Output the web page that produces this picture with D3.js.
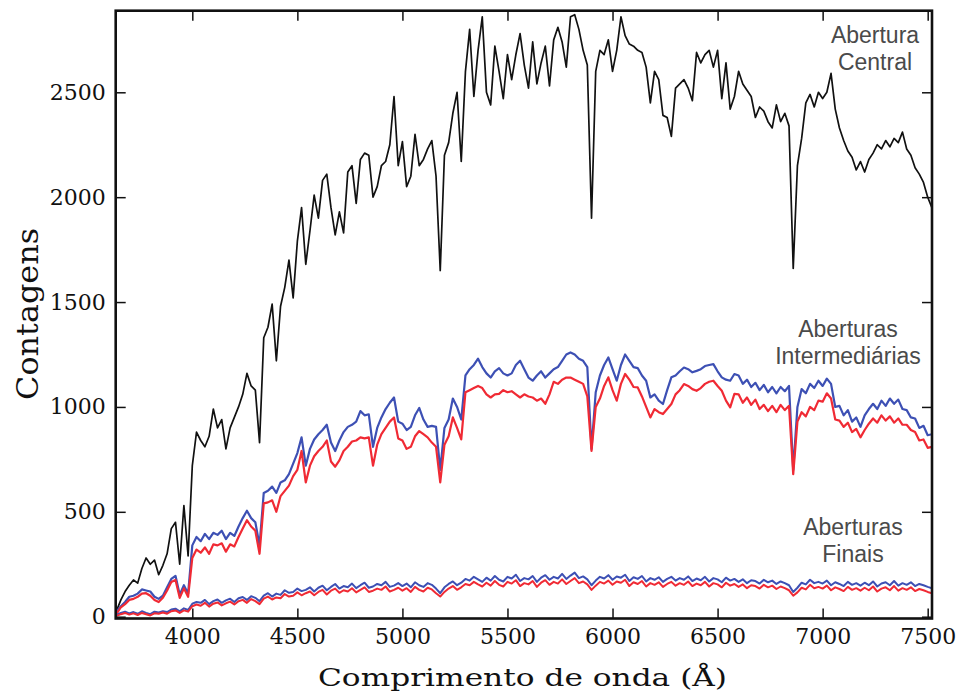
<!DOCTYPE html>
<html>
<head>
<meta charset="utf-8">
<script src="https://cdn.jsdelivr.net/npm/d3@7"></script>
<style>
  body { margin: 0; background: #fff; }
</style>
</head>
<body>
<div id="chart"></div>
<script>
// grade de comprimento de onda (Å), passo de 20 Å
const wavelengths = d3.range(3640, 7521, 20);
const xTicks = [4000, 4500, 5000, 5500, 6000, 6500, 7000, 7500];
const yTicks = [0, 500, 1000, 1500, 2000, 2500];

// Abertura central (preto)
const central = [
  30, 80, 120, 150, 175, 160, 230, 280, 250, 270, 200, 245, 300, 420, 450, 250, 530, 290,
  720, 880, 840, 810, 860, 990, 900, 940, 800, 900,
  950, 1000, 1060, 1160, 1100, 1080, 830, 1330, 1380, 1490,
  1220, 1480, 1570, 1700, 1520, 1790, 1950, 1680, 1840, 2010,
  1900, 2080, 2110, 1950, 1820, 1930, 1830, 2120, 2150, 1970,
  2180, 2210, 2200, 2000, 2050, 2150, 2170, 2250, 2480, 2150,
  2265, 2050, 2100, 2300, 2150, 2180, 2230, 2270, 2100, 1650,
  2200, 2260, 2400, 2500, 2170, 2600, 2800, 2480, 2700, 2860,
  2500, 2440, 2720, 2600, 2470, 2680, 2560, 2680, 2780, 2630,
  2520, 2740, 2540, 2640, 2720, 2530, 2750, 2810, 2740, 2620,
  2860, 2870, 2800, 2700, 2630, 1900, 2600, 2700, 2680, 2750,
  2600, 2700, 2860, 2770, 2730, 2720, 2700, 2690, 2620, 2450,
  2600, 2560, 2390, 2380, 2290, 2520, 2540, 2560, 2520, 2460,
  2690, 2640, 2680, 2700, 2620, 2700, 2470, 2640, 2420, 2480,
  2600, 2540, 2510, 2480, 2380, 2430, 2410, 2360, 2330, 2440,
  2360, 2400, 2340, 1660, 2150, 2280, 2450, 2490, 2430, 2500,
  2470, 2500, 2590, 2420, 2330, 2270, 2220, 2190, 2130, 2170,
  2120, 2180, 2210, 2250, 2230, 2270, 2240, 2280, 2260, 2310,
  2230, 2200, 2140, 2110, 2070, 2000, 1950
];

// Aberturas intermediárias
const intermBlue = [
  25, 50, 70, 95, 100, 110, 130, 125, 120, 95, 85, 100, 140, 180, 195, 105, 150, 110,
  340, 380, 360, 395, 370, 400, 390, 410, 370, 400,
  385, 430, 470, 505, 470, 450, 340, 590, 600, 620,
  590, 640, 650, 680, 730, 780, 855, 720, 800, 845,
  870, 890, 915, 830, 790, 840, 880, 905, 915, 930,
  980, 960, 965, 810, 900, 950, 990, 1020, 1045, 930,
  920, 890, 905, 960, 995, 940, 905, 910, 905, 700,
  900, 940, 1040, 1000, 940, 1150, 1180, 1200, 1230, 1190,
  1160, 1140, 1170, 1185, 1160, 1150, 1160, 1200, 1220, 1180,
  1140, 1125, 1150, 1170, 1140, 1160, 1180, 1190, 1220, 1250,
  1260, 1250, 1230, 1220, 1190, 800, 1070, 1150, 1200, 1236,
  1180, 1125, 1200, 1250, 1220, 1190, 1185, 1150, 1125, 1045,
  1060, 1030, 1014, 1080, 1141, 1150, 1170, 1188, 1180, 1165,
  1172, 1180, 1195, 1200, 1204, 1170, 1141, 1130, 1125, 1157,
  1150, 1110, 1130, 1095, 1115, 1080, 1105, 1070, 1095, 1065,
  1095, 1075, 1100, 700, 1000, 1085, 1065, 1110, 1090, 1125,
  1100, 1135, 1110, 1000, 1005, 960, 985, 930, 950, 905,
  960, 990, 1015, 990, 1030, 1005, 1040, 1015, 1035, 990,
  985, 950, 945, 900, 910, 865, 870
];
const intermRed = [
  15, 45, 60, 80, 85, 95, 110, 112, 100, 80, 70, 90, 125, 165, 175, 90, 135, 95,
  280, 320, 305, 330, 300, 345, 340, 350, 310, 345,
  335, 380, 420, 460, 430, 410, 300, 540, 545, 555,
  500, 575, 600, 625, 670, 700, 790, 640, 720, 765,
  790, 810, 840, 740, 715, 745, 790, 810, 835, 840,
  855, 850, 855, 720, 820, 870, 900, 930, 950, 850,
  840, 800, 810, 860, 885, 870, 855, 830, 810, 640,
  820, 860, 950, 900, 845, 1070, 1080, 1090, 1100, 1090,
  1060, 1045, 1060, 1062, 1080, 1070, 1075, 1060, 1045, 1060,
  1050, 1045, 1030, 1040, 1015, 1060, 1120, 1110, 1130, 1140,
  1140, 1130, 1120, 1110, 1050, 790, 1000, 1040, 1100, 1141,
  1080, 1030, 1110, 1157, 1130, 1095, 1093, 1050, 1000, 950,
  990, 975, 966, 990, 1014, 1060, 1080, 1109, 1100, 1085,
  1077, 1090, 1110, 1120, 1125, 1100, 1077, 1030, 998, 1062,
  1060, 1020, 1045, 1010, 1035, 990, 1010, 980, 1005, 975,
  1010, 985, 1005, 680, 930, 975, 955, 1000, 985, 1030,
  1025, 1065, 1040, 940, 935, 905, 925, 880, 895, 855,
  890, 920, 945, 925, 960, 935, 955, 925, 945, 915,
  915, 890, 880, 840, 845, 805, 810
];

// Aberturas finais
const finalBlue = [
  8, 18, 24, 16, 22, 14, 26, 18, 12, 24, 20, 26, 22, 34, 38, 26, 40, 32,
  62, 70, 66, 80, 60, 74, 82, 66, 78, 86,
  70, 88, 94, 80, 98, 90, 74, 100, 112, 96,
  110, 104, 126, 114, 118, 134, 122, 128, 140, 120,
  138, 148, 126, 142, 156, 134, 146, 140, 158, 136,
  150, 162, 138, 144, 156, 150, 166, 142, 148, 160,
  146, 158, 140, 164, 150, 142, 160, 152, 134, 112,
  140, 156, 168, 150, 162, 180, 172, 190, 178, 166,
  186, 172, 194, 176, 168, 190, 182, 200, 170, 184,
  178, 194, 166, 186, 198, 176, 190, 182, 204, 180,
  196, 210, 184, 192, 178, 150, 172, 190, 182, 198,
  176, 192, 186, 200, 170, 188, 180, 194, 168, 184,
  176, 188, 166, 180, 190, 172, 184, 176, 192, 170,
  182, 174, 190, 168, 184, 178, 164, 186, 172, 180,
  166, 178, 160, 174, 170, 158, 176, 164, 172, 156,
  168, 160, 150, 118, 138, 162, 154, 176, 160, 166,
  158, 172, 150, 164, 156, 146, 166, 152, 160, 148,
  162, 150, 168, 144, 158, 164, 150, 170, 148, 160,
  152, 164, 146, 156, 150, 142, 136
];
const finalRed = [
  4, 12, 18, 10, 16, 8, 18, 12, 6, 16, 14, 20, 14, 26, 30, 18, 30, 24,
  50, 58, 52, 66, 48, 62, 68, 54, 64, 72,
  58, 74, 80, 66, 84, 74, 60, 86, 96, 82,
  92, 88, 108, 96, 100, 116, 102, 112, 120, 102,
  118, 128, 106, 124, 134, 114, 126, 120, 136, 116,
  128, 140, 118, 124, 134, 128, 144, 120, 128, 138,
  124, 136, 118, 142, 128, 120, 138, 130, 112, 96,
  118, 134, 146, 128, 140, 156, 150, 166, 154, 144,
  162, 148, 170, 152, 144, 166, 158, 174, 146, 160,
  154, 170, 142, 162, 174, 152, 166, 158, 178, 156,
  170, 184, 160, 168, 154, 128, 148, 166, 158, 172,
  152, 168, 162, 176, 146, 164, 156, 170, 144, 160,
  152, 164, 142, 156, 166, 148, 160, 152, 168, 146,
  158, 150, 166, 144, 160, 154, 140, 162, 148, 156,
  142, 154, 136, 150, 146, 134, 152, 140, 148, 132,
  144, 136, 126, 100, 116, 138, 130, 152, 136, 142,
  134, 148, 126, 140, 132, 122, 142, 128, 136, 124,
  138, 126, 144, 120, 134, 140, 126, 146, 124, 136,
  128, 140, 122, 132, 126, 118, 112
];

const width = 958, height = 693;
const margin = { top: 10.7, right: 26, bottom: 74.5, left: 115.7 };

const svg = d3.select("#chart").append("svg")
  .attr("width", width)
  .attr("height", height);

const x = d3.scaleLinear()
  .domain([3635.4, 7520.5])
  .range([margin.left, width - margin.right]);

const y = d3.scaleLinear()
  .domain([-8.6, 2889])
  .range([height - margin.bottom, margin.top]);

svg.append("defs").append("clipPath").attr("id", "plot")
  .append("rect")
  .attr("x", margin.left).attr("y", margin.top)
  .attr("width", width - margin.left - margin.right)
  .attr("height", height - margin.top - margin.bottom);

const line = d3.line()
  .x((d, i) => x(wavelengths[i]))
  .y(d => y(d));

const series = [
  { values: central, color: "#111111", w: 1.7 },
  { values: intermBlue, color: "#3d50b4", w: 2.2 },
  { values: intermRed, color: "#f02a34", w: 2.2 },
  { values: finalBlue, color: "#3d50b4", w: 2 },
  { values: finalRed, color: "#f02a34", w: 2 }
];

const g = svg.append("g").attr("clip-path", "url(#plot)");
series.forEach(s => {
  g.append("path")
    .datum(s.values)
    .attr("fill", "none")
    .attr("stroke", s.color)
    .attr("stroke-width", s.w)
    .attr("stroke-linejoin", "round")
    .attr("d", line);
});

// eixos (ticks para dentro)
const bottom = height - margin.bottom, right = width - margin.right;
const fmt = d3.format("d");
const axisStyle = sel => {
  sel.select(".domain").remove();
  sel.selectAll(".tick line").attr("stroke", "#111").attr("stroke-width", 1.5);
  sel.selectAll(".tick text")
    .style("font-family", "'DejaVu Serif', serif")
    .style("font-size", "22px")
    .attr("fill", "#111");
};

svg.append("g")
  .attr("transform", `translate(0,${bottom})`)
  .call(d3.axisBottom(x).tickValues(xTicks).tickFormat(fmt).tickSizeInner(-10).tickSizeOuter(0).tickPadding(10))
  .call(axisStyle);

svg.append("g")
  .attr("transform", `translate(0,${margin.top})`)
  .call(d3.axisTop(x).tickValues(xTicks).tickSizeInner(-10).tickSizeOuter(0).tickFormat(""))
  .call(axisStyle);

svg.append("g")
  .attr("transform", `translate(${margin.left},0)`)
  .call(d3.axisLeft(y).tickValues(yTicks).tickFormat(fmt).tickSizeInner(-10).tickSizeOuter(0).tickPadding(10))
  .call(axisStyle);

svg.append("g")
  .attr("transform", `translate(${right},0)`)
  .call(d3.axisRight(y).tickValues(yTicks).tickSizeInner(-10).tickSizeOuter(0).tickFormat(""))
  .call(axisStyle);

// moldura
svg.append("rect")
  .attr("x", margin.left).attr("y", margin.top)
  .attr("width", right - margin.left)
  .attr("height", bottom - margin.top)
  .attr("fill", "none")
  .attr("stroke", "#111")
  .attr("stroke-width", 2.6);

// rótulos dos eixos
svg.append("text")
  .attr("x", 522.5).attr("y", 686)
  .attr("text-anchor", "middle")
  .attr("textLength", 409)
  .attr("lengthAdjust", "spacingAndGlyphs")
  .style("font-family", "'DejaVu Serif', serif")
  .style("font-size", "25px")
  .attr("fill", "#111")
  .text("Comprimento de onda (Å)");

svg.append("text")
  .attr("transform", "translate(38,314) rotate(-90)")
  .attr("text-anchor", "middle")
  .attr("textLength", 172)
  .attr("lengthAdjust", "spacingAndGlyphs")
  .style("font-family", "'DejaVu Serif', serif")
  .style("font-size", "30px")
  .attr("fill", "#111")
  .text("Contagens");

// anotações
const notes = [
  { lines: ["Abertura", "Central"], cx: 875, y0: 43 },
  { lines: ["Aberturas", "Intermediárias"], cx: 848, y0: 337 },
  { lines: ["Aberturas", "Finais"], cx: 853, y0: 535 }
];
notes.forEach(n => {
  n.lines.forEach((t, i) => {
    svg.append("text")
      .attr("x", n.cx)
      .attr("y", n.y0 + i * 26.5)
      .attr("text-anchor", "middle")
      .style("font-family", "'Liberation Sans', Arial, sans-serif")
      .style("font-size", "23px")
      .attr("fill", "#4a4a4a")
      .text(t);
  });
});
</script>
</body>
</html>
